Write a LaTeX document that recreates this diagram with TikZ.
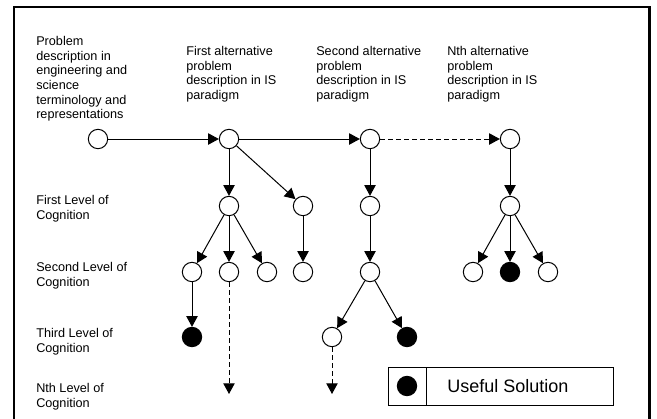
\documentclass[tikz,border=0pt]{standalone}
\usepackage{fontspec}
\setmainfont{Liberation Sans}
\usetikzlibrary{arrows.meta}

\begin{document}
\begin{tikzpicture}[
    x=0.75pt, y=-0.75pt,   % one unit = one pixel of the 657x418 page, y downwards
    every node/.style={font=\fontsize{9.5}{11}\selectfont},
]

\tikzset{
    state/.style={circle, draw, fill=white, line width=0.75pt,
        minimum size=14.5pt, inner sep=0pt},
    solution/.style={state, fill=black},
    link/.style={line width=0.75pt, -{Triangle[length=8pt, width=8.5pt]}},
    maybe/.style={link, dash pattern=on 3.5pt off 2.5pt},
    caption/.style={anchor=north west, inner sep=0pt, align=left},
}

\useasboundingbox (0,0) rectangle (657,418);

% ---------------------------------------------------------------- frame
\draw[line width=1.6pt] (14,440) -- (14,7) -- (649.5,7) -- (649.5,440);

% ---------------------------------------------------------------- captions
\node[caption] (capRoot) at (36,36) {Problem\\description in\\engineering and\\science\\terminology and\\representations};
\node[caption] (capAlt1) at (186,46) {First alternative\\problem\\description in IS\\paradigm};
\node[caption] (capAlt2) at (316,46) {Second alternative\\problem\\description in IS\\paradigm};
\node[caption] (capAltN) at (447,46) {Nth alternative\\problem\\description in IS\\paradigm};

\node[caption] (capL1) at (36,195) {First Level of\\Cognition};
\node[caption] (capL2) at (36,262) {Second Level of\\Cognition};
\node[caption] (capL3) at (36,328) {Third Level of\\Cognition};
\node[caption] (capLN) at (36,383) {Nth Level of\\Cognition};

% ---------------------------------------------------------------- top row
\node[state] (root) at (98,139) {};
\node[state] (alt1) at (229,139) {};
\node[state] (alt2) at (370,139) {};
\node[state] (altN) at (510,139) {};

\draw[link]  (root) -- (alt1);
\draw[link]  (alt1) -- (alt2);
\draw[maybe] (alt2) -- (altN);

% ---------------------------------------------------------------- levels
\foreach \n/\x in {a/229, b/303, c/370, d/510}
    \node[state] (l1\n) at (\x,206) {};

\foreach \n/\x in {a/192, b/229, c/267, d/303, e/370, f/473, h/548}
    \node[state] (l2\n) at (\x,272) {};
\node[solution] (l2g) at (510,272) {};

\node[solution] (l3a) at (192,337) {};
\node[state]    (l3b) at (332,337) {};
\node[solution] (l3c) at (407,337) {};

\coordinate (endA) at (229,394);
\coordinate (endB) at (332,394);

% ---------------------------------------------------------------- branches
\draw[link] (alt1) -- (l1a);
\draw[link] (alt1) -- (l1b);
\draw[link] (alt2) -- (l1c);
\draw[link] (altN) -- (l1d);

\foreach \s/\t in {l1a/l2a, l1a/l2b, l1a/l2c, l1b/l2d, l1c/l2e,
                   l1d/l2f, l1d/l2g, l1d/l2h, l2a/l3a, l2e/l3b, l2e/l3c}
    \draw[link] (\s) -- (\t);

\draw[maybe] (l2b) -- (endA);
\draw[maybe] (l3b) -- (endB);

% ---------------------------------------------------------------- legend
\draw[line width=0.75pt] (388,367) rectangle (613,405);
\draw[line width=0.75pt] (426,367) -- (426,405);
\node[solution] (key) at (407,386) {};
\node[anchor=west, inner sep=0pt, font=\fontsize{13.5}{16}\selectfont] (keyText) at (447,386) {Useful Solution};

\end{tikzpicture}
\end{document}
